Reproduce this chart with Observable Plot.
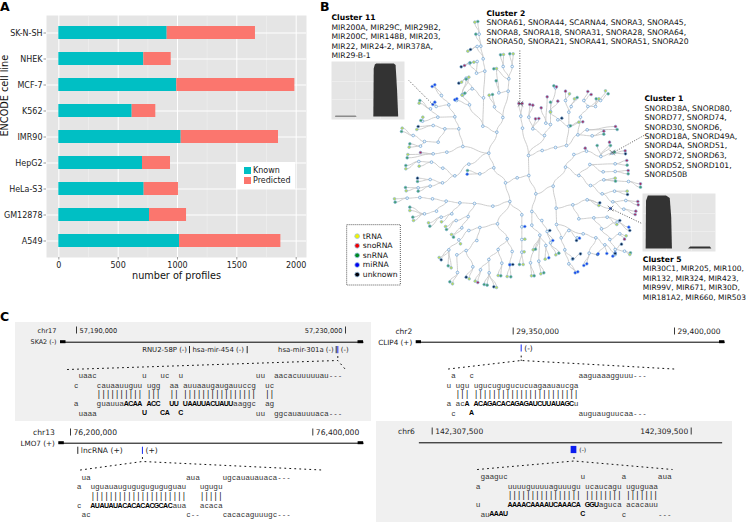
<!DOCTYPE html>
<html>
<head>
<meta charset="utf-8">
<script src="https://cdn.jsdelivr.net/npm/d3@7"></script>
<script src="https://cdn.jsdelivr.net/npm/@observablehq/plot@0.6"></script>
<style>
html,body{margin:0;padding:0;background:#fff}
#fig{position:relative;width:747px;height:522px;overflow:hidden;font-family:"DejaVu Sans",sans-serif;color:#111}
#fig>svg{position:absolute}
.panel{position:absolute;font-weight:bold;font-size:12.5px;line-height:12px;color:#000}
.box{position:absolute;background:#f0f0f0}
.lg{position:absolute;background:#fff;font-size:8px;color:#222}
.lg i{position:absolute;width:7px;height:7px}
.lg span{position:absolute;white-space:nowrap}
</style>
</head>
<body>
<div id="fig"></div>
<script>
/* ---------- Panel A ---------- */
const cellLines = ["SK-N-SH","NHEK","MCF-7","K562","IMR90","HepG2","HeLa-S3","GM12878","A549"];
const knownProfiles = [913,716,994,618,1031,705,719,764,1017];
const predictedProfiles = [744,231,995,199,820,236,289,312,854];
const profileTicks = [0,500,1000,1500,2000];
const profileMinorTicks = [250,750,1250,1750];
const profileTypes = ["Known","Predicted"];
const profileColors = ["#00BFC4","#FB766E"];

/* ---------- Panel B: tree: [x, y, children] or [x, y, kind] ---------- */
const rnaKinds = ["tRNA","snoRNA","snRNA","miRNA","unknown"];
const rnaColors = ["#f2f200","#f00000","#008a20","#0000f0","#000008"];
const rnaLeafColors = ["#c0dc50","#a8285c","#3f9e68","#1040f0","#0c2448"];
const T="tRNA",S="snoRNA",N="snRNA",M="miRNA",U="unknown";
const treeUpperLeft = [505,458,[
  [529,395,[
    [487,377,[
      [489,292,[
        [493,212,[
          [488,175,[
            [481,137,[[476,101,[[463,65,T],[472,63,N]]],[466,101,N]]],
            [470,138,[[442,152,T],[450,147,U]]]]],
          [468,218,[
            [470,183,[[449,187,N],[460,185,T]]],
            [447,188,[[422,199,U],[432,195,S]]]]]]],
        [455,265,[
          [437,233,[[415,248,U],[423,245,T]]],
          [425,283,[[437,236,N],[445,230,T]]]]]]],
      [447,313,[
        [427,283,[[425,284,T],[433,278,N]]],
        [408,300,[[403,298,M],[409,295,M]]]]]]],
    [547,351,[
      [522,319,[[506,284,T],[516,282,N]]],
      [563,272,[
        [535,277,[[527,241,N],[528,204,T]]],
        [565,235,[[548,198,[[540,163,N],[549,162,T]]],[575,198,[[568,160,N],[578,160,T]]],[520,205,N]]]]]]]]],
  [445,491,[
    [403,526,[
      [367,503,[
        [333,485,[[295,483,[[256,495,N],[256,505,T]]],[296,497,T]]]]],
      [366,547,[
        [329,537,[[291,533,U],[291,543,N]]],
        [329,557,[[293,562,[[255,561,N],[257,571,T]]],[293,572,N]]]]]]]]],
  [427,438,[
    [415,385,[
      [403,349,[
        [385,313,[
          [363,285,[[343,253,M],[335,258,M]]],
          [347,318,[[343,305,M],[337,312,M]]]]],
        [352,350,[
          [330,325,[[298,300,N],[296,308,T]]],
          [306,362,[[307,350,T],[301,360,N]]]]]]],
      [373,385,[
        [338,375,[[293,378,U],[289,387,T]]],
        [353,425,[
          [312,423,[[278,405,[[245,383,T],[243,393,N]]],
            [300,437,[[268,430,N],[266,440,T]]]]]]]]]]],
    [379,455,[
      [338,460,[[300,456,S],[262,462,T],[260,472,N]]]]]]]]];
const treeLowerLeft = [568,603,[
  [517,617,[
    [462,609,[
      [418,607,[
        [377,602,[
          [336,595,[[298,591,[[260,593,[[222,595,T],[224,605,N]]]]]]],
          [348,632,[[312,640,[[268,620,N],[268,630,T],[277,650,N],[279,660,T]]]]]]],
        [394,640,[[362,650,[[324,667,T],[328,677,N]]],[363,664,T]]]]],
      [443,648,[
        [407,660,[[375,678,T],[378,687,N]]],
        [424,682,[[393,702,T],[399,710,N]]]]]]]]],
  [531,670,[
    [478,681,[
      [445,690,[
        [415,718,[[420,730,T],
          [385,748,[[356,771,T],[362,778,U],[383,796,N],[392,802,T]]]]]]],
      [469,720,[
        [437,750,[
          [409,763,[[411,816,[[388,844,N],[396,850,T]]]]],
          [457,799,[[437,830,U],[446,835,T]]]]]]]]],
    [560,715,[
      [533,747,[
        [505,777,[
          [480,808,[[464,842,T],[472,846,S]]],
          [506,817,[[491,852,N],[500,854,N],[520,859,U],[528,861,T]]]]],
        [544,788,[[533,825,T],[541,826,N]]]]],
      [575,753,[
        [568,792,[[568,793,M],[577,792,U],[560,828,T],[571,829,N]]]]]]]]],
  [604,643,[
    [604,679,[[613,678,M],
      [604,717,[[613,716,T],
        [604,755,[[611,754,T],[597,792,N],[608,792,T]]]]]]]]]]];
const treeLowerRight = [646,580,[
  [634,633,[
    [634,674,[
      [658,704,[[638,748,T],[645,746,N],
        [676,735,[[674,776,T],[685,772,M]]],
        [630,787,[[633,826,T],[641,826,N]]],
        [655,782,[[661,820,T],[670,817,N]]]]]]],
    [664,660,[
      [680,693,[[688,690,U],
        [690,727,[[706,763,T],[715,758,N]]],[697,720,M]]]]]]],
  [698,557,[
    [707,623,[
      [708,672,[
        [722,712,[
          [745,690,[[770,712,[[768,720,U],[777,713,M]]]]],
          [733,748,[[756,776,[[780,760,U],[757,775,U]]],
            [745,790,[[764,817,M],[772,814,M]]]]]]],
        [788,700,[
          [826,712,[
            [806,758,[[831,762,U],[790,795,M],[799,790,M]]],
            [853,733,[[833,760,M],[859,759,M],[884,757,M]]]]]]]]],
      [757,613,[
        [775,655,[
          [820,652,[
            [860,650,[[898,660,U],[889,672,T]]],
            [843,685,[
              [890,665,[[925,680,M],[928,690,U]]],
              [868,717,[
                [898,700,[[917,706,T],[912,716,S]]],
                [884,747,[[903,731,U],
                  [884,762,[[877,767,M],[884,759,U]]],
                  [912,752,[[930,757,N],[928,762,T]]]]]]]]]]]]],
        [800,598,[[838,607,U],[835,615,T],[870,624,M]]]]]]],
    [735,500,[
      [775,525,[
        [810,555,[
          [845,580,[
            [877,604,[
              [916,600,[[952,603,S],[953,613,S]]],
              [910,626,[[946,632,S],[944,642,S]]]]],
            [882,572,[[920,572,T],[921,582,U]]]]],
          [850,538,[[884,533,T],[885,542,N],
            [924,543,[[960,550,S],[960,560,N]]]]]]],
        [808,492,[
          [848,514,[[884,513,[[923,510,S],[923,520,N]]]]],
          [884,490,[[919,480,S],[920,494,N]]]]]]],
      [760,462,[
        [798,452,[[794,443,S],
          [841,468,[[875,458,[[914,451,S],[915,460,U],[882,455,N]]],
            [830,435,N],[867,425,S],[870,435,N]]]]]]]]]]]]];
const treeUpperRight = [624,465,[
  [672,405,[
    [637,385,[
      [625,350,[[628,312,S],[637,314,S]]],
      [645,355,S],[655,354,S]]],
    [690,372,[
      [676,368,[[662,322,S],[680,289,S]]],
      [690,333,[[690,305,N],[712,302,S],
        [705,262,[[700,256,N],[708,259,S]]]]]]]]],
  [606,383,[[601,347,[[595,309,S],[605,309,S]]]]],
  [665,450,[
    [705,441,[
      [738,435,[
        [772,403,[
          [815,406,[[850,392,S],[850,401,N]]],
          [800,388,[[885,378,S],[890,387,N]]],
          [780,350,[
            [802,318,[
              [790,300,[[802,273,S],[812,282,S]]],
              [825,318,[[827,295,N],[835,295,T]]],
              [840,300,[[855,271,T],[863,280,N]]]]]]]]],
        [745,377,[[750,376,N],[775,365,T],[787,364,S],
          [712,358,[[724,353,U],[690,335,T]]],
          [745,335,[
            [735,300,[[735,272,S],[747,280,T]]],
            [752,318,[[762,295,T],[770,291,N]]]]]]]]]]]]]]];
const treeCore = [625,525,[
  treeUpperRight,
  treeLowerRight,
  [590,532,[[555,547,[
    [520,502,[treeUpperLeft,[478,520,[[441,510,N],[440,521,M]]]]],
    treeLowerLeft]]]]]];

const clusterNotes = [
  {x:33, y:52, head:true, text:"Cluster 11"},
  {x:33, y:80, text:"MIR200A, MIR29C, MIR29B2,"},
  {x:33, y:108,text:"MIR200C, MIR148B, MIR203,"},
  {x:33, y:137,text:"MIR22, MIR24-2, MIR378A,"},
  {x:33, y:166,text:"MIR29-B-1"},
  {x:498,y:39, head:true, text:"Cluster 2"},
  {x:498,y:67, text:"SNORA61, SNORA44, SCARNA4, SNORA3, SNORA45,"},
  {x:498,y:96, text:"SNORA8, SNORA18, SNORA31, SNORA28, SNORA64,"},
  {x:498,y:124,text:"SNORA50, SNORA21, SNORA41, SNORA51, SNORA20"},
  {x:972,y:294,head:true, text:"Cluster 1"},
  {x:972,y:323,text:"SNORD38A, SNORD80,"},
  {x:972,y:352,text:"SNORD77, SNORD74,"},
  {x:972,y:380,text:"SNORD30, SNORD6,"},
  {x:972,y:408,text:"SNORD18A, SNORD49A,"},
  {x:972,y:436,text:"SNORD4A, SNORD51,"},
  {x:972,y:465,text:"SNORD72, SNORD63,"},
  {x:972,y:494,text:"SNORD52, SNORD101,"},
  {x:972,y:522,text:"SNORD50B"},
  {x:967,y:777,head:true, text:"Cluster 5"},
  {x:967,y:805,text:"MIR30C1, MIR205, MIR100,"},
  {x:967,y:834,text:"MIR132, MIR324, MIR423,"},
  {x:967,y:862,text:"MIR99V, MIR671, MIR30D,"},
  {x:967,y:891,text:"MIR181A2, MIR660, MIR503"}
];
const clusterLeaders = [
  {x1:265,y1:240,x2:337,y2:312},
  {x1:598,y1:150,x2:598,y2:310},
  {x1:970,y1:405,x2:875,y2:458},
  {x1:962,y1:668,x2:870,y2:624}
];
const clusterHits = [{x:600,y:310},{x:875,y:456},{x:870,y:624}];

/* insets */
const cluster11X = [[0.055,0.06,0.34,0.35],[0.58,0.585,0.60,0.62,0.86,0.885,0.905,0.92]];
const cluster11Y = [[0,0.015,0.015,0],[0,0.9,0.98,1,1,0.97,0.5,0]];
const cluster5X  = [[0.05,0.055,0.08,0.33,0.38,0.40,0.41],[0.63,0.66,0.93,0.95]];
const cluster5Y  = [[0,0.9,1,1,0.95,0.6,0],[0,0.04,0.04,0]];

/* ---------- Panel C ---------- */
const ska2Seq = [
" uaac          u   uc  u                uu  aacacuuuuuau---",
"c    cauaauuguu ugg  aa auuaaugaugauuccg  uc",
"     |||||||||| |||  || ||||||||||||||||  ||",
"a    guauuaACAA ACC  UU UAAUUACUAUUaaggc  ag",
" uaaa          U   CA  C                uu  ggcauauuuaca---"];
const clip4Seq = [
" a   c                       aaguaaagguuu---",
"u ugu ugucugugucucuagaauaucga",
"  ||| |||||||||||||||||||||||",
"a acA ACAGACACAGAGAUCUUAUAGCu",
" c   A                       auguauguucaa---"];
const lmo7Seq = [
" ua                     aua     ugcauauauaca---",
"a  uguauauguguguguguguau   ugugu",
"   |||||||||||||||||||||   |||||",
"c  AUAUAUACACACACGCACaua   acaca",
" ac                     c--     cacacaguuugc---"];
const chr6Seq = [
" gaaguc                u        a       aua",
"a      uuuuguuuuaguuugu ucaucagu uguguaa",
"       |||||||||||||||| |||||||| |||||||",
"u      AAAACAAAAUCAAACA GGUaguca acacauu",
" auAAAU                C        c       ---"];

const ska2 = {chrom:"chr17", gene:"SKA2 (-)", ticks:[57190000,57230000], span:[57187620,57232680], block:820,
  bars:[57206803,57215383,57228617], mirna:[57228855],
  labels:[{g:57206803,text:"RNU2-58P (-)",a:"end"},{g:57206803,text:"hsa-mir-454 (-)",a:"start"},{g:57228617,text:"hsa-mir-301a (-)",a:"end"},{g:57228855,text:"(-)",a:"start"}],
  fan:[57188662,57230000], side:["start","end"]};
const clip4 = {chrom:"chr2", gene:"CLIP4 (+)", ticks:[29350000,29400000], span:[29319930,29415600], block:1640,
  bars:[], mirna:[29352480],
  labels:[{g:29352480,text:"(-)",a:"start"}],
  fan:[29329943,29399786], side:["start","start"]};
const lmo7 = {chrom:"chr13", gene:"LMO7 (+)", ticks:[76200000,76400000], span:[76190350,76441950], block:4540,
  bars:[76206020], mirna:[76259400],
  labels:[{g:76206020,text:"lncRNA (+)",a:"start"},{g:76259400,text:"(+)",a:"start"}],
  fan:[76208250,76407650], side:["start","start"]};
const chr6 = {chrom:"chr6", gene:"", ticks:[142307500,142309500], span:[142307397,142309739], block:0,
  bars:[], mirna:[], mirnaBlock:[142308573,142308617],
  labels:[{g:142308617,text:"(-)",a:"start"}],
  fan:[142307850,142309353], side:["start","end"]};

/* ---------- drawing ---------- */
const fig = document.getElementById("fig");
const base = {fontFamily:"DejaVu Sans, sans-serif", background:"transparent", overflow:"visible"};
function place(svg,left,top){svg.style.left=left+"px";svg.style.top=top+"px";fig.appendChild(svg);}
function html(cls,css,txt){const d=document.createElement("div");d.className=cls;Object.assign(d.style,css);if(txt)d.textContent=txt;fig.appendChild(d);return d;}

html("panel",{left:"0px",top:"1px"},"A");
html("panel",{left:"320px",top:"1px"},"B");
html("panel",{left:"0px",top:"311px"},"C");
html("box",{left:"15px",top:"322px",width:"356px",height:"99px"});
html("box",{left:"376px",top:"421px",width:"356px",height:"101px"});

/* A */
const profileRows = cellLines.flatMap((c,i)=>[
  {cell:c,type:profileTypes[0],value:knownProfiles[i]},
  {cell:c,type:profileTypes[1],value:predictedProfiles[i]}]);
place(Plot.plot({
  width:306,height:285,marginLeft:46,marginRight:0,marginTop:15,marginBottom:28,style:base,
  x:{domain:[-104,2087]},
  y:{domain:cellLines,paddingInner:0.5,paddingOuter:0.35},
  color:{domain:profileTypes,range:profileColors},
  marks:[
    Plot.frame({fill:"#e5e5e5",stroke:null}),
    Plot.ruleX(profileMinorTicks,{stroke:"#f0f0f0",strokeWidth:0.6}),
    Plot.ruleX(profileTicks,{stroke:"#fff",strokeWidth:1}),
    Plot.ruleY(cellLines,{stroke:"#fff",strokeWidth:1}),
    Plot.barX(profileRows,{x:"value",y:"cell",fill:"type"}),
    Plot.axisX({ticks:profileTicks,tickSize:2.5,fontSize:8,label:null,tickPadding:2,stroke:"#999",color:"#222",tickFormat:d=>String(d)}),
    Plot.axisY({tickSize:2.5,fontSize:8,label:null,tickPadding:1.5,stroke:"#999",color:"#222"}),
    Plot.text(["number of profiles"],{frameAnchor:"bottom",dy:18,lineAnchor:"middle",fontSize:9.7,fill:"#111"}),
    Plot.text(["ENCODE cell line"],{frameAnchor:"left",rotate:-90,dx:-42,fontSize:9.7,fill:"#111"})
  ]}),0,0);
const lg=html("lg",{left:"236px",top:"162px",width:"59px",height:"27px"});
profileTypes.forEach((t,i)=>{
  const s=document.createElement("i");s.style.cssText=`left:8px;top:${5+i*10}px;background:${profileColors[i]}`;lg.appendChild(s);
  const l=document.createElement("span");l.textContent=t;l.style.cssText=`left:17px;top:${3.5+i*10}px`;lg.appendChild(l);
});

/* B */
const treeEdges=[],treeNodes=[],treeLeaves=[];
(function walk(n){
  const [x,y,rest]=n;
  if(Array.isArray(rest)){treeNodes.push({x,y});rest.forEach(c=>{treeEdges.push({x1:x,y1:y,x2:c[0],y2:c[1]});walk(c);});}
  else treeLeaves.push({x,y,kind:rest});
})(treeCore);
const legendRows = rnaKinds.map((k,i)=>({kind:k,row:i}));
const legendX=110, legendTop=707, legendStep=28.8;
const leafColor=Object.fromEntries(rnaKinds.map((k,i)=>[k,rnaLeafColors[i]]));
const legendColor=Object.fromEntries(rnaKinds.map((k,i)=>[k,rnaColors[i]]));
const steep=e=>Math.abs(e.y2-e.y1)>=Math.abs(e.x2-e.x1);
const edgeStyle={x1:"x1",y1:"y1",x2:"x2",y2:"y2",stroke:"#c8c8c8",strokeWidth:0.9};
place(Plot.plot({
  width:427,height:310,margin:0,style:base,
  x:{axis:null,domain:[0,1281]},y:{axis:null,domain:[930,0]},
  marks:[
    Plot.link(treeEdges.filter(steep),{...edgeStyle,curve:"bump-y"}),
    Plot.link(treeEdges.filter(e=>!steep(e)),{...edgeStyle,curve:"bump-x"}),
    Plot.dot(treeNodes,{x:"x",y:"y",r:1.35,fill:"#f2f6fb",stroke:"#6aa2d4",strokeWidth:0.7}),
    Plot.dot(treeLeaves,{x:"x",y:"y",r:1.35,fill:d=>leafColor[d.kind],stroke:"#7fb0de",strokeWidth:0.6}),
    Plot.link(clusterLeaders,{x1:"x1",y1:"y1",x2:"x2",y2:"y2",stroke:"#333",strokeWidth:0.8,strokeDasharray:"1,1.5"}),
    Plot.dot(clusterHits,{x:"x",y:"y",symbol:"times",r:2.6,stroke:"#444",strokeWidth:0.6}),
    Plot.text(clusterNotes.filter(d=>!d.head),{x:"x",y:"y",text:"text",textAnchor:"start",fontSize:d=>d.x===967?7.45:7.65,fill:"#111"}),
    Plot.text(clusterNotes.filter(d=>d.head),{x:"x",y:"y",text:"text",textAnchor:"start",fontSize:7.65,fontWeight:"bold",fill:"#000"}),
    Plot.rect([{x1:80,x2:241,y1:674,y2:855}],{x1:"x1",x2:"x2",y1:"y1",y2:"y2",fill:"none",stroke:"#333",strokeWidth:0.8,strokeDasharray:"1,1"}),
    Plot.dot(legendRows,{x:()=>legendX,y:d=>legendTop+d.row*legendStep,r:2.4,fill:d=>legendColor[d.kind],stroke:"#9cc3e6",strokeWidth:0.8}),
    Plot.text(legendRows,{x:()=>legendX+17,y:d=>legendTop+d.row*legendStep,text:"kind",textAnchor:"start",fontSize:7.65,fill:"#111"})
  ]}),320,0);

function inset(xs,ys,left,top){
  const shapes=xs.flatMap((a,i)=>a.map((x,j)=>({x,y:ys[i][j],z:i})));
  place(Plot.plot({
    width:73,height:58,margin:0,style:base,
    x:{axis:null,domain:[0,1]},y:{axis:null,domain:[-0.045,1.045]},
    marks:[
      Plot.frame({fill:"#e5e5e5",stroke:null}),
      Plot.ruleX([0.33,0.67],{stroke:"#f4f4f4",strokeWidth:0.6}),
      Plot.ruleY([0.33,0.67],{stroke:"#f4f4f4",strokeWidth:0.6}),
      Plot.areaY(shapes,{x:"x",y:"y",z:"z",fill:"#333",curve:"linear"})
    ]}),left,top);
}
inset(cluster11X,cluster11Y,331,61);
inset(cluster5X,cluster5Y,642,193);

/* C */
function track(t,px,rows,fs){
  const yg=rows.gene,yl=rows.label,yf=rows.feat,yt=rows.tip,ya=rows.apex,ye=rows.end;
  const centre=t.mirna.length?t.mirna[0]:(t.mirnaBlock[0]+t.mirnaBlock[1])/2;
  const blocks=t.block?[[t.span[0],t.span[0]+t.block],[t.span[1]-t.block,t.span[1]]]:[];
  const fmt=d3.format(",");
  const marks=[
    Plot.link([t.span],{x1:d=>d[0],x2:d=>d[1],y1:()=>yg,y2:()=>yg,stroke:"#000",strokeWidth:1}),
    Plot.rect(blocks,{x1:d=>d[0],x2:d=>d[1],y1:()=>yg-1.5,y2:()=>yg+1.5,fill:"#000"}),
    Plot.text([t.chrom],{x:()=>t.span[0],y:()=>yl,dx:-4,text:d=>d,textAnchor:"end",fontSize:fs.tick,fill:"#222"}),
    Plot.text([t.gene],{x:()=>t.span[0],y:()=>yg,dx:-4,text:d=>d,textAnchor:"end",fontSize:fs.gene,fill:"#222"}),
    Plot.ruleX(t.ticks,{y1:()=>yl-3.5,y2:()=>yl+3.5,stroke:"#222",strokeWidth:0.9}),
    Plot.text(t.ticks.filter((d,i)=>t.side[i]==="start"),{x:d=>d,y:()=>yl,text:d=>fmt(d),textAnchor:"start",fontSize:fs.tick,fill:"#222",dx:3}),
    Plot.text(t.ticks.filter((d,i)=>t.side[i]==="end"),{x:d=>d,y:()=>yl,text:d=>fmt(d),textAnchor:"end",fontSize:fs.tick,fill:"#222",dx:-3}),
    Plot.ruleX(t.bars,{y1:()=>yf-3.6,y2:()=>yf+3.6,stroke:"#111",strokeWidth:0.9}),
    Plot.ruleX(t.mirna,{y1:()=>yf-3.6,y2:()=>yf+3.6,stroke:"#2a3cf0",strokeWidth:1.1}),
    Plot.text(t.labels.filter(d=>d.a==="start"),{x:"g",y:()=>yf,text:"text",textAnchor:"start",dx:t.mirnaBlock?2.5:3,fontSize:fs.feat,fill:"#222"}),
    Plot.text(t.labels.filter(d=>d.a==="end"),{x:"g",y:()=>yf,text:"text",textAnchor:"end",dx:-2.5,fontSize:fs.feat,fill:"#222"}),
    Plot.line([[centre,yt],[centre,ya]],{x:"0",y:"1",stroke:"#111",strokeWidth:1,strokeDasharray:"1,3",strokeLinecap:"round"}),
    Plot.line([[t.fan[0],ye],[centre,ya],[t.fan[1],ye]],{x:"0",y:"1",stroke:"#111",strokeWidth:1,strokeDasharray:"1,4",strokeLinecap:"round"})
  ];
  if(t.mirnaBlock) marks.push(Plot.rect([t.mirnaBlock],{x1:"0",x2:"1",y1:()=>yf-3.6,y2:()=>yf+3.6,fill:"#0a1cf0"}));
  place(Plot.plot({width:747,height:522,margin:0,style:base,
    x:{axis:null,domain:t.ticks,range:px},y:{axis:null,domain:[0,522],range:[0,522]},marks}),0,0);
}
track(ska2,[76,345],{label:330,gene:341.7,feat:349.6,tip:356,apex:360,end:369},{tick:6.6,gene:6.4,feat:6.9});
track(clip4,[512.7,674],{label:331,gene:341.7,feat:348,tip:355.5,apex:360,end:368.5},{tick:7.5,gene:7.2,feat:7.5});
track(lmo7,[70,312.3],{label:432,gene:442.7,feat:450.3,tip:457,apex:461,end:469.5},{tick:7.6,gene:7.2,feat:7.6});
track(chr6,[431.7,690.7],{label:431,gene:442.3,feat:449.5,tip:457,apex:460.5,end:469},{tick:7.55,gene:7.2,feat:6});

function sequence(rows,x0,y0){
  const chars=rows.flatMap((r,row)=>Array.from(r).map((c,col)=>({c,col,row}))).filter(d=>d.c!==" ");
  const isBold=d=>d.c>="A"&&d.c<="Z";
  const isBar=d=>d.c==="|";
  place(Plot.plot({
    width:747,height:522,margin:0,style:{...base,fontFamily:"Liberation Sans, Arial, sans-serif"},
    x:{axis:null,domain:[0,1],range:[x0,x0+4.55]},y:{axis:null,domain:[0,1],range:[y0,y0+9.35]},
    marks:[
      Plot.text(chars.filter(d=>!isBold(d)&&!isBar(d)),{x:"col",y:"row",text:"c",fontSize:7.6,fill:"#333"}),
      Plot.text(chars.filter(isBold),{x:"col",y:"row",text:"c",fontSize:7,fontWeight:"bold",fill:"#000"}),
      Plot.text(chars.filter(isBar),{x:"col",y:"row",text:"c",fontSize:8.6,fill:"#222"})
    ]}),0,0);
}
sequence(ska2Seq,75.7,375.3);
sequence(clip4Seq,448.3,375.3);
sequence(lmo7Seq,78.7,477);
sequence(chr6Seq,477.7,476.3);
</script>
</body>
</html>
